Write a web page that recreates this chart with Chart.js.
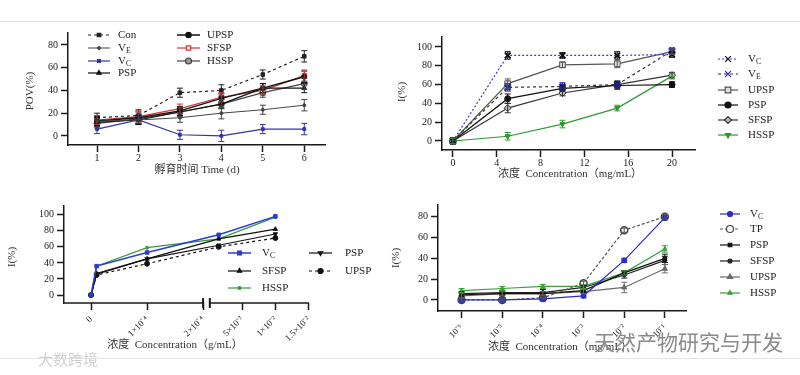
<!DOCTYPE html>
<html>
<head>
<meta charset="utf-8">
<script src="https://cdn.jsdelivr.net/npm/chart.js@4.4.0/dist/chart.umd.min.js"></script>
<style>
  body { margin: 0; width: 800px; height: 375px; background: #fff; overflow: hidden; position: relative; }
  canvas { position: absolute; left: 0; top: 0; }
  .rule { position: absolute; left: 0; width: 800px; height: 1px; background: #e4e4e4; }
  .wm { position: absolute; font-family: "Noto Sans CJK SC", sans-serif; white-space: nowrap; }
</style>
</head>
<body>
<div class="rule" style="top:21px"></div>
<div class="rule" style="top:358px"></div>
<canvas id="c1" width="800" height="375"></canvas>
<canvas id="c2" width="800" height="375"></canvas>
<canvas id="c3" width="800" height="375"></canvas>
<canvas id="c4" width="800" height="375"></canvas>
<div class="wm" style="left:38px;top:348px;font-size:15px;color:#d2d2d2">大数跨境</div>
<div class="wm" style="left:594px;top:326px;font-size:21px;color:#8a8a8a">天然产物研究与开发</div>
<script>
// ---- panel 1: POV over incubation time ----
const days = [1, 2, 3, 4, 5, 6];
const povCon  = [16, 18, 38, 40, 54, 70];
const povVE   = [13, 14, 16, 20, 23, 27];
const povVC   = [6, 14, 1, 0, 6, 6];
const povPSP  = [12, 14, 21, 28, 42, 42];
const povUPSP = [13, 16, 22, 33, 42, 52];
const povSFSP = [14, 17, 24, 34, 40, 53];
const povHSSP = [11, 15, 21, 28, 38, 46];
const errCon  = [4, 5, 4, 5, 4, 5];
const errVE   = [4, 4, 4, 5, 4, 5];
const errVC   = [4, 3, 4, 5, 4, 5];
const errPSP  = [4, 4, 3, 4, 4, 4];
const errUPSP = [4, 5, 4, 4, 4, 5];
const errSFSP = [4, 5, 4, 4, 4, 5];
const errHSSP = [4, 4, 4, 4, 4, 5];
const povTicks = [0, 20, 40, 60, 80];

// ---- panel 2: I(%) vs concentration (mg/mL) ----
const conc2 = [0, 5, 10, 15, 20];
const i2VC   = [0, 91, 91, 91, 92];
const i2VE   = [0, 57, 58, 60, 96];
const i2UPSP = [0, 61, 81, 82, 95];
const i2PSP  = [0, 45, 56, 59, 60];
const i2SFSP = [0, 35, 51, 60, 70];
const i2HSSP = [0, 5, 18, 35, 69];
const e2VC   = [3, 4, 3, 4, 3];
const e2VE   = [3, 4, 4, 3, 3];
const e2UPSP = [3, 5, 3, 4, 3];
const e2PSP  = [3, 5, 3, 4, 3];
const e2SFSP = [3, 5, 3, 4, 3];
const e2HSSP = [3, 4, 4, 3, 3];
const i2Ticks = [0, 20, 40, 60, 80, 100];
const conc2Ticks = [0, 4, 8, 12, 16, 20];

// ---- panel 3: I(%) vs concentration (g/mL), broken axis ----
const conc3 = [0, 1e-5, 1e-4, 1.5e-3, 1e-2];
const i3VC   = [0, 36, 53, 75, 98];
const i3PSP  = [0, 26, 45, 62, 76];
const i3SFSP = [0, 27, 45, 70, 82];
const i3UPSP = [0, 25, 39, 60, 71];
const i3HSSP = [0, 36, 59, 70, 97];
const i3Ticks = [0, 20, 40, 60, 80, 100];
const conc3Ticks  = [0, 1e-4, 2e-4, 5e-3, 1e-2, 1.5e-2];
const conc3Labels = ['0', '1×10⁻⁴', '2×10⁻⁴', '5×10⁻³', '1×10⁻²', '1.5×10⁻²'];

// ---- panel 4: I(%) vs concentration (mg/mL), log axis ----
const conc4 = [1e-6, 1e-5, 1e-4, 1e-3, 1e-2, 1e-1];
const conc4Labels = ['10⁻⁶', '10⁻⁵', '10⁻⁴', '10⁻³', '10⁻²', '10⁻¹'];
const i4VC   = [0, 0, 1, 4, 38, 79];
const i4TP   = [0, 0, 2, 16, 67, 80];
const i4PSP  = [5, 6, 6, 9, 26, 40];
const i4SFSP = [6, 7, 7, 12, 24, 38];
const i4UPSP = [4, 6, 6, 8, 12, 30];
const i4HSSP = [9, 11, 13, 13, 26, 49];
const e4VC   = [2, 2, 2, 2, 2, 2];
const e4TP   = [1, 1, 1, 2, 2, 2];
const e4PSP  = [2, 2, 2, 2, 2, 4];
const e4SFSP = [2, 2, 3, 2, 3, 4];
const e4UPSP = [2, 2, 2, 2, 5, 4];
const e4HSSP = [2, 2, 2, 2, 2, 3];
const i4Ticks = [0, 20, 40, 60, 80];

const SERIF = '"Liberation Serif", "Noto Sans CJK SC", serif';
const INK = '#1a1a1a';

const pairs = (xs, ys, f = v => v) => xs.map((x, i) => ({ x: f(x), y: ys[i] }));

// broken x axis of panel 3: left part 0..2e-4, right part 0..1.5e-2
const BREAK_AT = 2e-4;
function brokenPos(c) {
  return c <= BREAK_AT ? c / 1e-4 : 2.1 + c / 5e-3 * 0.595;
}

function line(label, data, color, opts = {}) {
  return Object.assign({
    label, data,
    borderColor: color, borderWidth: 1.2,
    pointStyle: 'circle', pointRadius: 2.5,
    pointBackgroundColor: color, pointBorderColor: color, pointBorderWidth: 1,
    fill: false, tension: 0
  }, opts);
}

function yAxis(min, max, ticks) {
  return {
    type: 'linear', min, max,
    afterBuildTicks: s => { s.ticks = ticks.map(v => ({ value: v })); },
    afterFit: s => { s.width = 40; },
    border: { color: INK, width: 1.5 },
    grid: { drawOnChartArea: false, tickLength: 7, tickWidth: 1.5, tickColor: INK },
    ticks: { color: '#222', padding: 3, font: { family: SERIF, size: 10 } }
  };
}

function xAxis(type, min, max, ticks, labels, rot) {
  return {
    type, min, max,
    afterBuildTicks: s => { s.ticks = ticks.map(v => ({ value: v })); },
    afterFit: s => { s.height = 40; },
    border: { color: INK, width: 1.5 },
    grid: { drawOnChartArea: false, tickLength: 7, tickWidth: 1.5, tickColor: INK },
    ticks: {
      color: '#222', padding: rot ? 4 : 0, autoSkip: false,
      minRotation: rot, maxRotation: rot,
      font: { family: SERIF, size: rot ? 9 : 10 },
      callback: (v, i) => labels ? labels[i] : v
    }
  };
}

const errorBars = {
  id: 'errorBars',
  afterDatasetsDraw(chart) {
    const ctx = chart.ctx, ys = chart.scales.y;
    chart.data.datasets.forEach((ds, i) => {
      if (!ds.errors) return;
      const meta = chart.getDatasetMeta(i);
      ctx.save();
      ctx.strokeStyle = ds.errColor || ds.borderColor;
      ctx.lineWidth = 1;
      meta.data.forEach((pt, j) => {
        const v = ds.data[j].y, e = ds.errors[j];
        const top = ys.getPixelForValue(v + e), bot = ys.getPixelForValue(v - e);
        ctx.beginPath();
        ctx.moveTo(pt.x, top); ctx.lineTo(pt.x, bot);
        ctx.moveTo(pt.x - 3, top); ctx.lineTo(pt.x + 3, top);
        ctx.moveTo(pt.x - 3, bot); ctx.lineTo(pt.x + 3, bot);
        ctx.stroke();
      });
      ctx.restore();
    });
  }
};

function drawLabel(ctx, text, x, y, size) {
  const [main, sub] = text.split('_');
  ctx.font = size + 'px ' + SERIF;
  ctx.textBaseline = 'middle';
  ctx.textAlign = 'left';
  ctx.fillText(main, x, y);
  if (sub) {
    const w = ctx.measureText(main).width;
    ctx.font = (size * 0.7) + 'px ' + SERIF;
    ctx.fillText(sub, x + w, y + size * 0.3);
  }
}

// legend entries and axis titles placed where the figure has them
const extras = {
  id: 'extras',
  afterDraw(chart, args, opts) {
    const ctx = chart.ctx;
    (opts.legend || []).forEach(it => {
      const ds = chart.data.datasets[it.i];
      ctx.save();
      ctx.strokeStyle = ds.borderColor;
      ctx.lineWidth = ds.borderWidth;
      ctx.setLineDash(ds.borderDash || []);
      ctx.beginPath(); ctx.moveTo(it.x1, it.y); ctx.lineTo(it.x2, it.y); ctx.stroke();
      ctx.setLineDash([]);
      ctx.fillStyle = ds.pointBackgroundColor;
      ctx.strokeStyle = ds.pointBorderColor;
      Chart.helpers.drawPoint(ctx, {
        pointStyle: ds.pointStyle, radius: ds.pointRadius,
        rotation: ds.pointRotation || 0, borderWidth: ds.pointBorderWidth
      }, (it.x1 + it.x2) / 2, it.y);
      ctx.fillStyle = '#222';
      drawLabel(ctx, ds.label, it.tx, it.y, 11);
      ctx.restore();
    });
    (opts.titles || []).forEach(t => {
      ctx.save();
      ctx.translate(t.x, t.y);
      if (t.rot) ctx.rotate(-Math.PI / 2);
      ctx.fillStyle = '#333';
      ctx.font = '11px ' + SERIF;
      ctx.textAlign = 'center';
      ctx.textBaseline = 'middle';
      ctx.fillText(t.text, 0, 0);
      ctx.restore();
    });
  }
};

// axis line of panel 3 with the break marks
const brokenAxis = {
  id: 'brokenAxis',
  afterDraw(chart) {
    const ctx = chart.ctx, xs = chart.scales.x, a = chart.chartArea;
    const xl = xs.getPixelForValue(brokenPos(BREAK_AT));
    const xr = xs.getPixelForValue(2.12);
    const y = a.bottom;
    ctx.save();
    ctx.strokeStyle = INK;
    ctx.lineWidth = 1.5;
    ctx.beginPath();
    ctx.moveTo(a.left, y); ctx.lineTo(xl, y);
    ctx.moveTo(xr, y); ctx.lineTo(a.right, y);
    ctx.stroke();
    ctx.lineWidth = 2;
    ctx.beginPath();
    ctx.moveTo(xl, y - 5); ctx.lineTo(xl, y + 5);
    ctx.moveTo(xr, y - 5); ctx.lineTo(xr, y + 5);
    ctx.stroke();
    ctx.restore();
  }
};

const base = (padding) => ({
  responsive: false, animation: false, devicePixelRatio: 1,
  layout: { padding },
  plugins: { legend: { display: false }, tooltip: { enabled: false } }
});

// ---------- panel 1 ----------
const opt1 = base({ left: 28, top: 33, right: 475, bottom: 190 });
opt1.scales = {
  x: xAxis('linear', 0.3, 6.5, days, null, 0),
  y: yAxis(-8, 90.5, povTicks)
};
opt1.plugins.extras = {
  legend: [
    { i: 0, x1: 88, x2: 110, tx: 118, y: 35 },
    { i: 1, x1: 88, x2: 110, tx: 118, y: 48 },
    { i: 2, x1: 88, x2: 110, tx: 118, y: 61 },
    { i: 3, x1: 88, x2: 110, tx: 118, y: 73 },
    { i: 4, x1: 177, x2: 200, tx: 207, y: 35 },
    { i: 5, x1: 177, x2: 200, tx: 207, y: 48 },
    { i: 6, x1: 177, x2: 200, tx: 207, y: 61 }
  ],
  titles: [
    { text: '孵育时间 Time (d)', x: 197, y: 170 },
    { text: 'POV(%)', x: 30, y: 91, rot: true }
  ]
};
new Chart(document.getElementById('c1'), {
  type: 'line',
  data: {
    datasets: [
      line('Con', pairs(days, povCon), '#222', { borderDash: [3, 3], pointStyle: 'rect', errors: errCon }),
      line('V_E', pairs(days, povVE), '#444', { borderWidth: 1, pointRadius: 1.5, errors: errVE }),
      line('V_C', pairs(days, povVC), '#3434a8', { pointStyle: 'rect', pointRadius: 2, errors: errVC }),
      line('PSP', pairs(days, povPSP), '#111', { pointStyle: 'triangle', errors: errPSP }),
      line('UPSP', pairs(days, povUPSP), '#111', { borderWidth: 1.5, errors: errUPSP }),
      line('SFSP', pairs(days, povSFSP), '#d03434', { pointStyle: 'rect', pointRadius: 3, pointBackgroundColor: '#fff', errors: errSFSP }),
      line('HSSP', pairs(days, povHSSP), '#444', { pointRadius: 3, pointBackgroundColor: '#999', errors: errHSSP })
    ]
  },
  options: opt1,
  plugins: [errorBars, extras]
});

// ---------- panel 2 ----------
const opt2 = base({ left: 402, top: 37, right: 105, bottom: 185 });
opt2.scales = {
  x: xAxis('linear', -1, 22.1, conc2Ticks, null, 0),
  y: yAxis(-9.6, 110.6, i2Ticks)
};
opt2.plugins.extras = {
  legend: [0, 1, 2, 3, 4, 5].map((i, k) => ({ i, x1: 718, x2: 738, tx: 748, y: [59, 74, 90, 105, 120, 135][k] })),
  titles: [
    { text: '浓度  Concentration（mg/mL）', x: 570, y: 174 },
    { text: 'I(%)', x: 402, y: 92, rot: true }
  ]
};
new Chart(document.getElementById('c2'), {
  type: 'line',
  data: {
    datasets: [
      line('V_C', pairs(conc2, i2VC), '#3a3ad0', { borderDash: [2, 2], pointStyle: 'crossRot', pointRadius: 4, pointBorderWidth: 2, pointBorderColor: '#111', pointBackgroundColor: '#111', errors: e2VC, errColor: '#111' }),
      line('V_E', pairs(conc2, i2VE), '#333', { borderDash: [3, 3], pointStyle: 'crossRot', pointRadius: 4, pointBorderWidth: 2.5, pointBorderColor: '#2222b0', pointBackgroundColor: '#2222b0', errors: e2VE, errColor: '#2222b0' }),
      line('UPSP', pairs(conc2, i2UPSP), '#555', { pointStyle: 'rect', pointRadius: 4, pointBackgroundColor: '#ddd', errors: e2UPSP }),
      line('PSP', pairs(conc2, i2PSP), '#111', { pointRadius: 3, errors: e2PSP }),
      line('SFSP', pairs(conc2, i2SFSP), '#333', { pointStyle: 'rectRot', pointRadius: 3.5, pointBackgroundColor: '#bbb', errors: e2SFSP }),
      line('HSSP', pairs(conc2, i2HSSP), '#2e9a2e', { pointStyle: 'triangle', pointRotation: 180, pointRadius: 3, errors: e2HSSP })
    ]
  },
  options: opt2,
  plugins: [errorBars, extras]
});

// ---------- panel 3 ----------
const opt3 = base({ left: 24, top: 206, right: 491, bottom: 32 });
const x3 = xAxis('linear', -0.482, 3.89, conc3Ticks.map(brokenPos), conc3Labels, 45);
x3.border = { display: false };
opt3.scales = { x: x3, y: yAxis(-9.9, 110.9, i3Ticks) };
opt3.plugins.extras = {
  legend: [
    { i: 0, x1: 228, x2: 251, tx: 262, y: 253 },
    { i: 2, x1: 228, x2: 251, tx: 262, y: 271 },
    { i: 4, x1: 228, x2: 251, tx: 262, y: 288 },
    { i: 1, x1: 309, x2: 332, tx: 345, y: 253 },
    { i: 3, x1: 309, x2: 332, tx: 345, y: 271 }
  ],
  titles: [
    { text: '浓度  Concentration（g/mL）', x: 175, y: 345 },
    { text: 'I(%)', x: 12, y: 257, rot: true }
  ]
};
new Chart(document.getElementById('c3'), {
  type: 'line',
  data: {
    datasets: [
      line('V_C', pairs(conc3, i3VC, brokenPos), '#2b3bd4', { borderWidth: 1.5, pointStyle: 'rect', pointRadius: 2.5 }),
      line('PSP', pairs(conc3, i3PSP, brokenPos), '#111', { pointStyle: 'triangle', pointRotation: 180, pointRadius: 2.5 }),
      line('SFSP', pairs(conc3, i3SFSP, brokenPos), '#111', { pointStyle: 'triangle', pointRadius: 2.5 }),
      line('UPSP', pairs(conc3, i3UPSP, brokenPos), '#111', { borderDash: [3, 3], pointRadius: 2.5 }),
      line('HSSP', pairs(conc3, i3HSSP, brokenPos), '#3a9a3a', { pointRadius: 1.5 })
    ]
  },
  options: opt3,
  plugins: [brokenAxis, extras]
});

// ---------- panel 4 ----------
const opt4 = base({ left: 398, top: 205, right: 114, bottom: 24 });
opt4.scales = {
  x: xAxis('logarithmic', Math.pow(10, -6.58), Math.pow(10, -0.48), conc4, conc4Labels, 45),
  y: yAxis(-10.6, 91.2, i4Ticks)
};
opt4.plugins.extras = {
  legend: [0, 1, 2, 3, 4, 5].map((i, k) => ({ i, x1: 720, x2: 740, tx: 750, y: [214, 229, 245, 261, 277, 293][k] })),
  titles: [
    { text: '浓度  Concentration（mg/mL）', x: 560, y: 347 },
    { text: 'I(%)', x: 396, y: 258, rot: true }
  ]
};
new Chart(document.getElementById('c4'), {
  type: 'line',
  data: {
    datasets: [
      line('V_C', pairs(conc4, i4VC), '#2a2ad0', { errors: e4VC }),
      line('TP', pairs(conc4, i4TP), '#555', { borderDash: [3, 2], pointRadius: 3.5, pointBorderWidth: 1.5, pointBackgroundColor: '#fff', pointBorderColor: '#444', errors: e4TP }),
      line('PSP', pairs(conc4, i4PSP), '#111', { pointStyle: 'rect', errors: e4PSP }),
      line('SFSP', pairs(conc4, i4SFSP), '#222', { pointRadius: 2, errors: e4SFSP }),
      line('UPSP', pairs(conc4, i4UPSP), '#6a6a6a', { pointStyle: 'triangle', pointRadius: 3, errors: e4UPSP }),
      line('HSSP', pairs(conc4, i4HSSP), '#3aa03a', { pointStyle: 'triangle', errors: e4HSSP })
    ]
  },
  options: opt4,
  plugins: [errorBars, extras]
});
</script>
</body>
</html>
